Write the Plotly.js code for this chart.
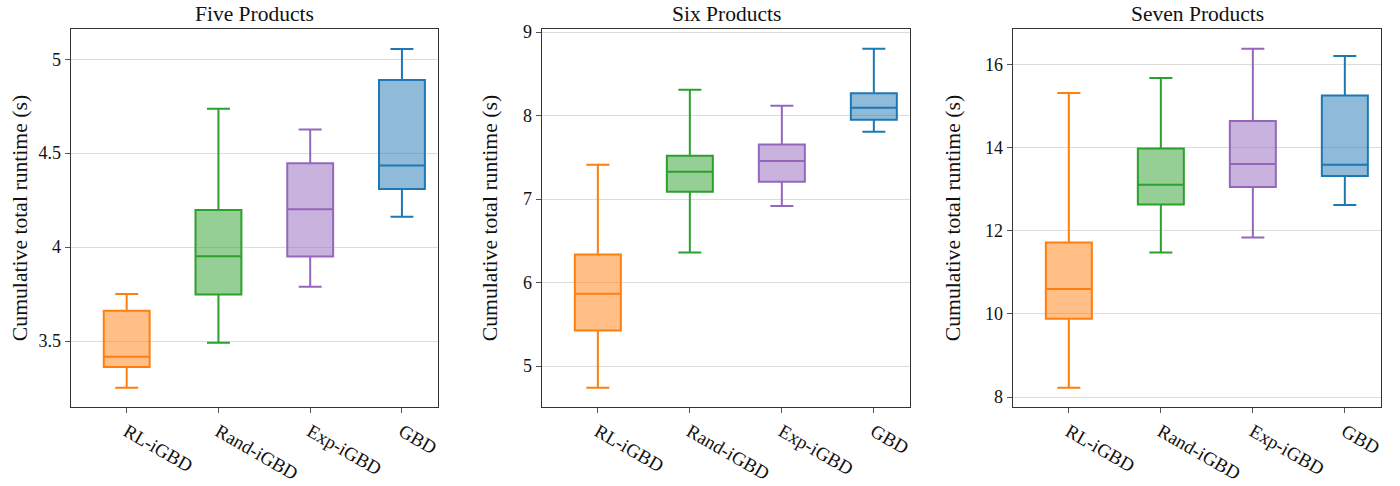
<!DOCTYPE html>
<html>
<head>
<meta charset="utf-8">
<script src="https://cdn.plot.ly/plotly-3.0.1.min.js"></script>
<style>html,body{margin:0;padding:0;background:#fff;}#chart{width:1400px;height:486px;}</style>
</head>
<body>
<div id="chart"></div>
<script>
// Categories and colours
const methods = ["RL-iGBD", "Rand-iGBD", "Exp-iGBD", "GBD"];
const lineColors = ["#ff7f0e", "#2ca02c", "#9467bd", "#1f77b4"];
const fillColors = ["rgba(255,127,14,0.5)", "rgba(44,160,44,0.5)", "rgba(148,103,189,0.5)", "rgba(31,119,180,0.5)"];

// Panel titles
const panelTitles = ["Five Products", "Six Products", "Seven Products"];

// Five products: box statistics per method
const five_lower  = [3.252, 3.491, 3.789, 4.161];
const five_q1     = [3.362, 3.748, 3.950, 4.310];
const five_median = [3.417, 3.952, 4.202, 4.434];
const five_q3     = [3.661, 4.198, 4.447, 4.890];
const five_upper  = [3.750, 4.736, 4.626, 5.055];

// Six products
const six_lower  = [4.740, 6.359, 6.916, 7.805];
const six_q1     = [5.425, 7.087, 7.206, 7.949];
const six_median = [5.865, 7.326, 7.454, 8.092];
const six_q3     = [6.335, 7.517, 7.653, 8.268];
const six_upper  = [7.411, 8.308, 8.116, 8.799];

// Seven products
const seven_lower  = [8.224, 11.477, 11.840, 12.620];
const seven_q1     = [9.887, 12.634, 13.057, 13.320];
const seven_median = [10.600, 13.110, 13.610, 13.590];
const seven_q3     = [11.718, 13.985, 14.645, 15.260];
const seven_upper  = [15.319, 15.680, 16.385, 16.210];

// Y tick labels
const five_ticks  = [3.5, 4, 4.5, 5];
const six_ticks   = [5, 6, 7, 8, 9];
const seven_ticks = [8, 10, 12, 14, 16];

const panels = [
  {lower: five_lower, q1: five_q1, med: five_median, q3: five_q3, upper: five_upper, ticks: five_ticks, range: [3.149, 5.161], standoff: 5},
  {lower: six_lower, q1: six_q1, med: six_median, q3: six_q3, upper: six_upper, ticks: six_ticks, range: [4.509, 9.036], standoff: 19},
  {lower: seven_lower, q1: seven_q1, med: seven_median, q3: seven_q3, upper: seven_upper, ticks: seven_ticks, range: [7.76, 16.859], standoff: 18}
];

const domains = [[71/1400, 438/1400], [542/1400, 910/1400], [1013/1400, 1381/1400]];
const FONT = "Liberation Serif, Times New Roman, serif";

const traces = [];
panels.forEach((p, pi) => {
  const xa = pi === 0 ? "x" : "x" + (pi + 1);
  const ya = pi === 0 ? "y" : "y" + (pi + 1);
  methods.forEach((m, mi) => {
    traces.push({
      type: "box",
      x: [m],
      q1: [p.q1[mi]], median: [p.med[mi]], q3: [p.q3[mi]],
      lowerfence: [p.lower[mi]], upperfence: [p.upper[mi]],
      xaxis: xa, yaxis: ya,
      width: 0.5,
      whiskerwidth: 0.5,
      fillcolor: fillColors[mi],
      line: {color: lineColors[mi], width: 2},
      boxpoints: false,
      showlegend: false,
      hoverinfo: "skip"
    });
  });
});

const layout = {
  width: 1400, height: 486,
  margin: {l: 0, r: 0, t: 29, b: 79},
  paper_bgcolor: "#fff", plot_bgcolor: "#fff",
  font: {family: FONT, size: 18, color: "#111"},
  boxmode: "overlay",
  showlegend: false,
  annotations: []
};

panels.forEach((p, pi) => {
  const sfx = pi === 0 ? "" : String(pi + 1);
  layout["xaxis" + sfx] = {
    domain: domains[pi],
    anchor: "y" + sfx,
    type: "category",
    categoryorder: "array", categoryarray: methods,
    range: [-0.607, 3.393],
    showline: true, mirror: true, linecolor: "#333", linewidth: 1.3,
    ticks: "outside", ticklen: 5, tickcolor: "#555", tickwidth: 1,
    tickangle: 30,
    tickfont: {family: FONT, size: 19, color: "#111"},
    showgrid: false, zeroline: false, fixedrange: true
  };
  layout["yaxis" + sfx] = {
    domain: [0, 1],
    anchor: "x" + sfx,
    range: p.range,
    tickvals: p.ticks,
    ticktext: p.ticks.map(String),
    showline: true, mirror: true, linecolor: "#333", linewidth: 1.3,
    ticks: "outside", ticklen: 5, tickcolor: "#555", tickwidth: 1,
    tickfont: {family: FONT, size: 18, color: "#111"},
    showgrid: true, gridcolor: "#dcdcdc", gridwidth: 1,
    zeroline: false, fixedrange: true,
    title: {text: "Cumulative total runtime (s)", font: {family: FONT, size: 21.7, color: "#111"}, standoff: p.standoff}
  };
  layout.annotations.push({
    text: panelTitles[pi],
    xref: "x" + sfx + " domain", yref: "paper",
    x: 0.5, y: 1, xanchor: "center", yanchor: "bottom", yshift: 1,
    showarrow: false,
    font: {family: FONT, size: 21.5, color: "#111"}
  });
});

Plotly.newPlot("chart", traces, layout, {staticPlot: true});
</script>
</body>
</html>
